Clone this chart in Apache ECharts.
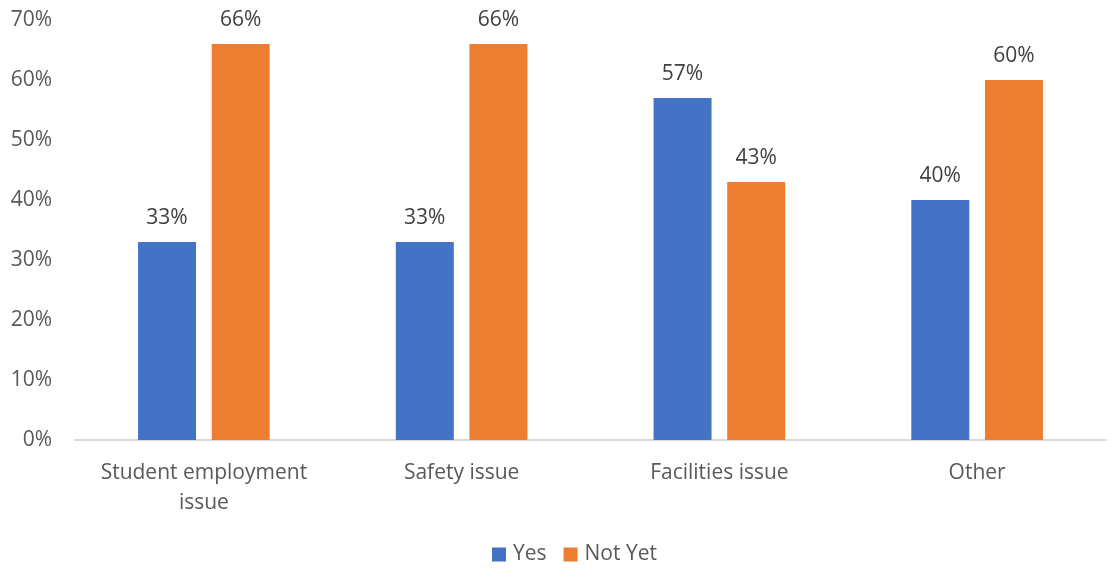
<!DOCTYPE html>
<html>
<head>
<meta charset="utf-8">
<script src="https://cdn.jsdelivr.net/npm/echarts@6/dist/echarts.min.js"></script>
<style>
  html, body { margin: 0; padding: 0; background: #fff; }
  #chart { width: 1107px; height: 569px; }
</style>
</head>
<body>
<div id="chart"></div>
<script>
// Survey responses by issue type (percent of respondents)
const categories = ['Student employment\nissue', 'Safety issue', 'Facilities issue', 'Other'];
const yesValues = [33, 33, 57, 40];
const notYetValues = [66, 66, 43, 60];
const yTicks = [0, 10, 20, 30, 40, 50, 60, 70];

const FONT = '"Open Sans", "Noto Sans", sans-serif';
const TEXT = '#595959';

const chart = echarts.init(document.getElementById('chart'), null, { renderer: 'canvas' });

const labelStyle = {
  show: true,
  position: 'top',
  distance: 13,
  formatter: p => p.value + '%',
  color: '#404040',
  fontFamily: FONT,
  fontSize: 21
};

chart.setOption({
  animation: false,
  backgroundColor: '#fff',
  grid: { left: 75, right: 1, top: 20, bottom: 129, containLabel: false },
  legend: {
    top: 544,
    left: 492,
    itemWidth: 14,
    itemHeight: 14,
    itemGap: 17,
    icon: 'rect',
    padding: 0,
    textStyle: { color: TEXT, fontFamily: FONT, fontSize: 21, padding: [0, 0, 0, 2] },
    data: ['Yes', 'Not Yet']
  },
  xAxis: {
    type: 'category',
    data: categories,
    axisLine: { lineStyle: { color: '#d9d9d9', width: 2 } },
    axisTick: { show: false },
    axisLabel: { interval: 0, color: TEXT, fontFamily: FONT, fontSize: 21, lineHeight: 30, margin: 18 }
  },
  yAxis: {
    type: 'value',
    min: yTicks[0],
    max: yTicks[yTicks.length - 1],
    interval: 10,
    splitLine: { show: false },
    axisLine: { show: false },
    axisTick: { show: false },
    axisLabel: { color: TEXT, fontFamily: FONT, fontSize: 21, margin: 23, formatter: v => v + '%' }
  },
  series: [
    {
      name: 'Yes',
      type: 'bar',
      data: yesValues,
      barWidth: 58,
      barGap: '27%',
      itemStyle: { color: '#4472c4' },
      label: labelStyle
    },
    {
      name: 'Not Yet',
      type: 'bar',
      data: notYetValues,
      barWidth: 58,
      barGap: '27%',
      itemStyle: { color: '#ed7d31' },
      label: labelStyle
    }
  ]
});
</script>
</body>
</html>
